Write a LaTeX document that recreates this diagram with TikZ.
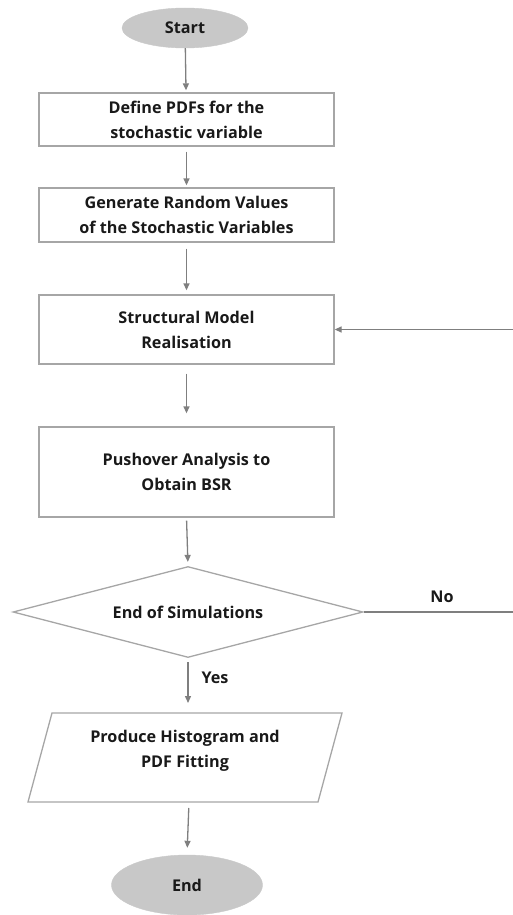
\documentclass[tikz,border=0pt]{standalone}
\usepackage{fontspec}
\setmainfont{Open Sans}
\usetikzlibrary{arrows.meta,shapes.geometric}
\definecolor{boxline}{HTML}{A6A6A6}
\definecolor{arrline}{HTML}{7F7F7F}
\definecolor{termfill}{HTML}{C8C8C8}
\begin{document}
\begin{tikzpicture}[x=1pt,y=-1pt,
  every node/.style={font=\fontsize{16.2}{25}\selectfont\bfseries, text=black!90, align=center},
  procbox/.style={draw=boxline, line width=1.3pt, rectangle, inner sep=0pt, minimum width=295pt},
  term/.style={ellipse, fill=termfill, draw=termfill, inner sep=0pt},
  decbox/.style={diamond, draw=boxline, line width=1.3pt, inner sep=0pt, aspect=3.8, minimum width=350pt, minimum height=91pt},
  conn/.style={draw=arrline, line width=1.3pt},
  arr/.style={conn, -{Triangle[length=7pt,width=6pt]}},
]
\useasboundingbox (0,0) rectangle (512,915);
\node[term, minimum width=126pt, minimum height=40pt] (start) at (185,28) {Start};
\node[procbox, minimum height=53pt] (b1) at (186.5,119.5) {Define PDFs for the\\stochastic variable};
\node[procbox, minimum height=54pt] (b2) at (186.5,215) {Generate Random Values\\of the Stochastic Variables};
\node[procbox, minimum height=69pt] (b3) at (186.5,329.5) {Structural Model\\Realisation};
\node[procbox, minimum height=90pt] (b4) at (186.5,472) {Pushover Analysis to\\Obtain BSR};
\node[decbox] (dec) at (188,612) {End of Simulations};
\coordinate (ptl) at (52,713);
\coordinate (ptr) at (342,713);
\coordinate (pbr) at (318,802);
\coordinate (pbl) at (28,802);
\coordinate (ptop) at (188,713);
\coordinate (pbot) at (189,802);
\draw[boxline, line width=1.3pt] (ptl) -- (ptr) -- (pbr) -- (pbl) -- cycle;
\node (para) at (185,751) {Produce Histogram and\\PDF Fitting};
\node[term, minimum width=151pt, minimum height=60pt] (end) at (187,885) {End};
\coordinate (corner) at (514,612);

\draw[arr, shorten >=2pt] (start) -- (b1);
\draw[arr, shorten <=5pt, shorten >=2pt] (b1) -- (b2);
\draw[arr, shorten <=6pt, shorten >=4pt] (b2) -- (b3);
\draw[arr, shorten <=9pt, shorten >=13pt] (b3) -- (b4);
\draw[arr, shorten <=3pt, shorten >=4pt] (b4.south) -- (dec.north);
\draw[arr, shorten <=4pt, shorten >=10pt] (dec.south) -- (ptop);
\draw[arr, shorten <=6pt, shorten >=7pt] (pbot) -- (end.north);
\draw[arr] (dec.east) -- (corner) |- (b3.east);
\node at (442,597) {No};
\node at (215,678) {Yes};
\end{tikzpicture}
\end{document}
